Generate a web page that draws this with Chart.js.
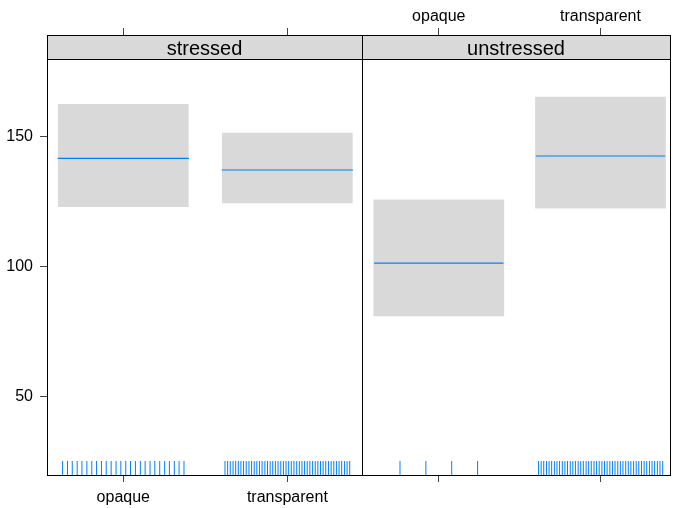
<!DOCTYPE html>
<html>
<head>
<meta charset="utf-8">
<script src="https://cdn.jsdelivr.net/npm/chart.js@4.4.1/dist/chart.umd.min.js"></script>
<style>
  body { margin: 0; background: #fff; }
  #wrap { position: relative; width: 673px; height: 508px; }
  #wrap canvas { position: absolute; left: 0; top: 0; }
</style>
</head>
<body>
<div id="wrap">
  <canvas id="panelStressed" width="673" height="508"></canvas>
  <canvas id="panelUnstressed" width="673" height="508"></canvas>
</div>
<script>
// data
const categories = ['opaque', 'transparent'];
const panels = ['stressed', 'unstressed'];
const yTicks = [50, 100, 150];

const stressedFit = [141.8, 137.3];
const stressedLower = [123.2, 124.6];
const stressedUpper = [162.6, 151.5];

const unstressedFit = [101.5, 142.7];
const unstressedLower = [81.2, 122.6];
const unstressedUpper = [125.8, 165.4];

// rug (jittered observations along x)
const stressedRug = [
    0.630, 0.660, 0.689, 0.719, 0.748, 0.778, 0.808, 0.837, 0.867, 0.896, 0.926, 0.956, 0.985,
    1.015, 1.044, 1.074, 1.104, 1.133, 1.163, 1.192, 1.222, 1.252, 1.281, 1.311, 1.340, 1.370,
    1.620, 1.636, 1.652, 1.669, 1.685, 1.701, 1.717, 1.733, 1.749, 1.766, 1.782, 1.798,
    1.814, 1.830, 1.846, 1.863, 1.879, 1.895, 1.911, 1.927, 1.943, 1.960, 1.976, 1.992,
    2.008, 2.024, 2.040, 2.057, 2.073, 2.089, 2.105, 2.121, 2.137, 2.154, 2.170, 2.186,
    2.202, 2.218, 2.234, 2.251, 2.267, 2.283, 2.299, 2.315, 2.331, 2.348, 2.364, 2.380
];
const unstressedRug = [
    0.760, 0.920, 1.080, 1.240,
    1.617, 1.633, 1.649, 1.666, 1.682, 1.698, 1.715, 1.731, 1.747, 1.764, 1.780, 1.796,
    1.813, 1.829, 1.845, 1.862, 1.878, 1.894, 1.911, 1.927, 1.943, 1.960, 1.976, 1.992,
    2.009, 2.025, 2.041, 2.058, 2.074, 2.090, 2.107, 2.123, 2.139, 2.156, 2.172, 2.188,
    2.205, 2.221, 2.237, 2.254, 2.270, 2.286, 2.303, 2.319, 2.335, 2.352, 2.368, 2.385
];

const X_RANGE_L = [0.535, 2.455];
const X_RANGE_R = [0.525, 2.43];
const Y_MIN = 20, Y_MAX = 189.23;   // top 24px is covered by the strip
const BOX_HALF = 0.4;
const RUG_Y = 22.7;
const BLUE = '#0080ff';
const GREY = '#d9d9d9';

Chart.defaults.font.family = '"Liberation Sans", Arial, sans-serif';
Chart.defaults.font.size = 16;
Chart.defaults.color = '#000';

const stripPlugin = {
    id: 'strip',
    beforeDatasetsDraw(chart, args, opts) {
        const { left, right, top } = chart.chartArea;
        const ctx = chart.ctx;
        ctx.save();
        ctx.fillStyle = GREY;
        ctx.fillRect(left, top, right - left, 24);
        ctx.strokeStyle = '#000';
        ctx.lineWidth = 1;
        ctx.beginPath();
        ctx.moveTo(left, top + 24.5);
        ctx.lineTo(right, top + 24.5);
        ctx.stroke();
        ctx.fillStyle = '#000';
        ctx.font = '20px "Liberation Sans", Arial, sans-serif';
        ctx.textAlign = 'center';
        ctx.textBaseline = 'middle';
        ctx.fillText(opts.title, (left + right) / 2, top + 14);
        ctx.restore();
    },
    afterDraw(chart) {
        const { left, right, top, bottom } = chart.chartArea;
        const ctx = chart.ctx;
        ctx.save();
        ctx.strokeStyle = '#000';
        ctx.lineWidth = 1;
        ctx.strokeRect(left + 0.5, top + 0.5, right - left, bottom - top);
        ctx.restore();
    }
};

function buildDatasets(fit, lower, upper, rug) {
    const sets = [{
        type: 'bar',
        data: categories.map((c, i) => ({ x: i + 1, y: [lower[i], upper[i]] })),
        backgroundColor: GREY,
        borderWidth: 0,
        barThickness: 130,
        order: 3
    }];
    categories.forEach((c, i) => {
        sets.push({
            type: 'line',
            data: [{ x: i + 1 - BOX_HALF, y: fit[i] }, { x: i + 1 + BOX_HALF, y: fit[i] }],
            borderColor: BLUE,
            borderWidth: 1.2,
            pointRadius: 0,
            order: 1
        });
    });
    sets.push({
        type: 'scatter',
        data: rug.map(v => ({ x: v, y: RUG_Y })),
        pointStyle: 'line',
        rotation: 90,
        radius: 7,
        borderColor: BLUE,
        borderWidth: 1,
        order: 2
    });
    return sets;
}

function xScale(position, range, showLabels, height) {
    return {
        type: 'linear',
        position: position,
        min: range[0],
        max: range[1],
        offset: false,
        border: { display: false },
        grid: { offset: false, drawOnChartArea: false, drawTicks: true, tickLength: 7, color: '#444' },
        ticks: {
            display: showLabels,
            padding: position === 'top' ? 2 : 6,
            callback: v => categories[v - 1]
        },
        afterBuildTicks: s => { s.ticks = categories.map((c, i) => ({ value: i + 1 })); },
        afterFit: s => { s.height = height; }
    };
}

function makePanel(id, title, fit, lower, upper, rug, first) {
    const range = first ? X_RANGE_L : X_RANGE_R;
    return new Chart(document.getElementById(id), {
        data: { datasets: buildDatasets(fit, lower, upper, rug) },
        options: {
            responsive: false,
            animation: false,
            events: [],
            layout: {
                autoPadding: false,
                padding: first ? { left: 0, right: 311, top: 0, bottom: 0 } : { left: 362, right: 3, top: 0, bottom: 0 }
            },
            plugins: { legend: { display: false }, tooltip: { enabled: false }, strip: { title: title } },
            scales: {
                x: xScale('bottom', range, first, 33),
                x2: xScale('top', range, !first, 35),
                y: {
                    type: 'linear',
                    display: first,
                    min: Y_MIN,
                    max: Y_MAX,
                    border: { display: false },
                    grid: { drawOnChartArea: false, drawTicks: true, tickLength: 7, color: '#444' },
                    ticks: { padding: 7 },
                    afterBuildTicks: s => { s.ticks = yTicks.map(v => ({ value: v })); },
                    afterFit: s => { s.width = first ? 47 : 0; }
                }
            }
        },
        plugins: [stripPlugin]
    });
}

makePanel('panelStressed', panels[0], stressedFit, stressedLower, stressedUpper, stressedRug, true);
makePanel('panelUnstressed', panels[1], unstressedFit, unstressedLower, unstressedUpper, unstressedRug, false);
</script>
</body>
</html>
